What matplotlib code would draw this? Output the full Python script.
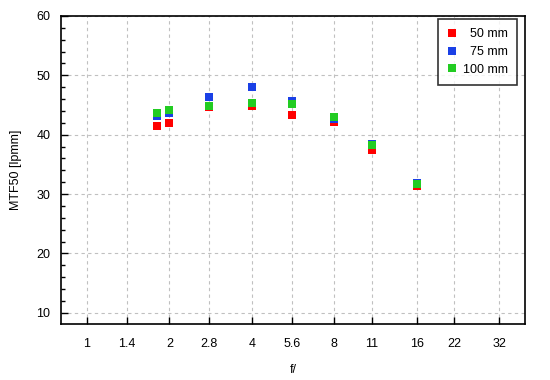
import matplotlib
matplotlib.use("Agg")
import matplotlib.pyplot as plt
from matplotlib.ticker import FixedLocator, NullLocator, MultipleLocator

plt.rcParams['font.family'] = ['Liberation Sans', 'DejaVu Sans']

# f-numbers of the measurements
f_numbers = [1.8, 2.0, 2.8, 4.0, 5.6, 8.0, 11.0, 16.0]
# MTF50 [lpmm] per focal length
mtf_50mm = [41.4, 41.9, 44.6, 44.9, 43.4, 42.1, 37.5, 31.4]
mtf_75mm = [43.2, 43.7, 46.4, 48.1, 45.6, 42.7, 38.4, 31.9]
mtf_100mm = [43.6, 44.1, 44.9, 45.4, 45.1, 42.9, 38.3, 31.7]

x_ticks = [1, 1.4, 2, 2.8, 4, 5.6, 8, 11, 16, 22, 32]
x_tick_labels = ['1', '1.4', '2', '2.8', '4', '5.6', '8', '11', '16', '22', '32']
y_ticks = [10, 20, 30, 40, 50, 60]

fig = plt.figure(figsize=(5.5, 3.8), dpi=100)
ax = fig.add_axes([0.1115, 0.1474, 0.8430, 0.8105])

ms = 5.2
ax.plot(f_numbers, mtf_50mm, 's', color='#ff0000', markersize=ms, markeredgewidth=0, label='  50 mm', zorder=3)
ax.plot(f_numbers, mtf_75mm, 's', color='#1a40e6', markersize=ms, markeredgewidth=0, label='  75 mm', zorder=4)
ax.plot(f_numbers, mtf_100mm, 's', color='#22cc22', markersize=ms, markeredgewidth=0, label='100 mm', zorder=5)

ax.set_xscale('log')
ax.set_xlim(0.806, 39.8)
ax.set_ylim(8.1, 60)

ax.xaxis.set_major_locator(FixedLocator(x_ticks))
ax.xaxis.set_minor_locator(NullLocator())
ax.set_xticklabels(x_tick_labels)
ax.yaxis.set_major_locator(FixedLocator(y_ticks))
ax.yaxis.set_minor_locator(MultipleLocator(2))

ax.tick_params(axis='both', which='major', direction='in', length=5, width=1, labelsize=9, pad=8)
ax.tick_params(axis='y', which='minor', direction='in', length=3, width=1)
ax.tick_params(axis='x', pad=10)

ax.grid(True, which='major', color='#c0c0c0', linestyle=(0, (3, 3)), linewidth=0.8)
ax.set_axisbelow(True)

for s in ax.spines.values():
    s.set_linewidth(1.2)
    s.set_color('black')

ax.set_xlabel('f/', fontsize=9, labelpad=10)
ax.set_ylabel('MTF50 [lpmm]', fontsize=9, labelpad=10)

leg = ax.legend(loc='upper right', bbox_to_anchor=(0.983, 0.990), borderaxespad=0,
                fontsize=9, frameon=True, fancybox=False, handlelength=0.8,
                handletextpad=0.45, labelspacing=0.45, borderpad=0.75, markerscale=1.0)
leg.get_frame().set_edgecolor('black')
leg.get_frame().set_linewidth(1.2)

fig.savefig('out.png', dpi=100)
